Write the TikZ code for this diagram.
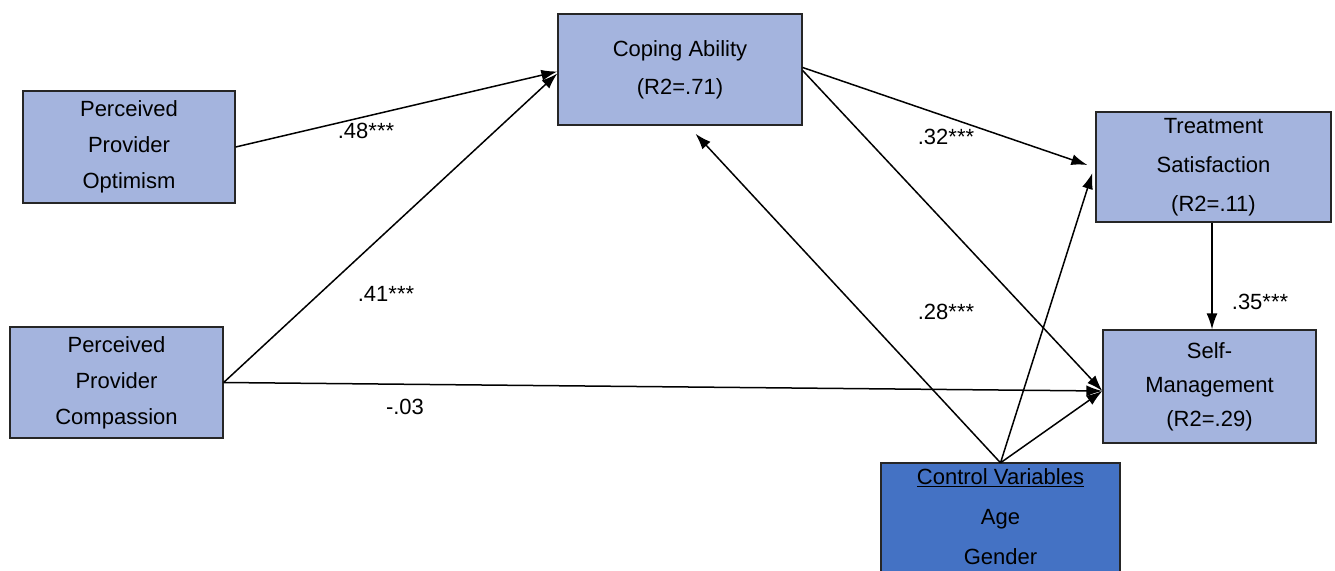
\documentclass[tikz,border=0pt]{standalone}
\usepackage{fontspec}
\setmainfont{Liberation Sans}
\usetikzlibrary{arrows.meta}
\definecolor{boxfill}{RGB}{164,180,222}
\definecolor{ctrlfill}{RGB}{68,114,196}
\tikzset{
  box/.style={draw=black!85, line width=1.3pt, fill=boxfill, align=center, inner sep=0pt,
    font=\fontsize{22}{36}\selectfont},
  ctrlbg/.style={draw=black!85, line width=1.3pt, fill=ctrlfill},
  ctrltext/.style={align=center, inner sep=0pt, font=\fontsize{22}{40}\selectfont},
  arr/.style={-{Latex[length=16pt,width=11pt]}, line width=1.5pt},
  lab/.style={font=\fontsize{22}{26}\selectfont, inner sep=0pt}
}
\begin{document}
\begin{tikzpicture}[x=1pt,y=-1pt]
\useasboundingbox (0,0) rectangle (1335,570);
\clip (0,0) rectangle (1335,570);
\node[box, minimum width=212pt, minimum height=112pt] (opt) at (129,147) {Perceived\\Provider\\Optimism};
\node[box, minimum width=244pt, minimum height=111pt, font=\fontsize{22}{38}\selectfont] (cop) at (680,69.5) {Coping Ability\\(R2=.71)};
\node[box, minimum width=235pt, minimum height=110pt, font=\fontsize{22}{39}\selectfont] (tre) at (1213.5,167) {Treatment\\Satisfaction\\(R2=.11)};
\node[box, minimum width=213pt, minimum height=113pt, font=\fontsize{22}{34}\selectfont] (sel) at (1209.5,386.5) {Self-\\Management\\(R2=.29)};
\node[box, minimum width=213pt, minimum height=111pt] (com) at (116.5,382.5) {Perceived\\Provider\\Compassion};
\path[ctrlbg] (881,463) rectangle (1120,600);
\node[ctrltext, minimum width=239pt, minimum height=108pt] (ctl) at (1000.5,517) {\underline{Control Variables}\\Age\\Gender};

\draw[arr] (opt.east) -- ([yshift=-2pt]cop.west);
\draw[arr] (com.east) -- ([yshift=-4pt]cop.west);
\draw[arr] (com.east) -- ([yshift=-4.5pt]sel.west);
\draw[arr] ([yshift=2pt]cop.east) -- ([xshift=-8pt,yshift=2pt]tre.west);
\draw[arr] ([yshift=-1pt]cop.east) -- ([yshift=-4.5pt]sel.west);
\draw[arr, shorten >=11pt] (ctl.north) -- ([xshift=8pt]cop.south);
\draw[arr] (ctl.north) -- ([xshift=-3pt,yshift=-6pt]tre.west);
\draw[arr] (ctl.north) -- ([yshift=-4.5pt]sel.west);
\draw[arr] ([xshift=-1.5pt]tre.south) -- ([xshift=-1.5pt]tre.south |- sel.north);

\node[lab] (l1) at (366,131) {.48***};
\node[lab] (l2) at (946,137) {.32***};
\node[lab] (l3) at (386,294) {.41***};
\node[lab] (l4) at (946,312) {.28***};
\node[lab] (l5) at (405,407) {-.03};
\node[lab] (l6) at (1260,302) {.35***};
\end{tikzpicture}
\end{document}
